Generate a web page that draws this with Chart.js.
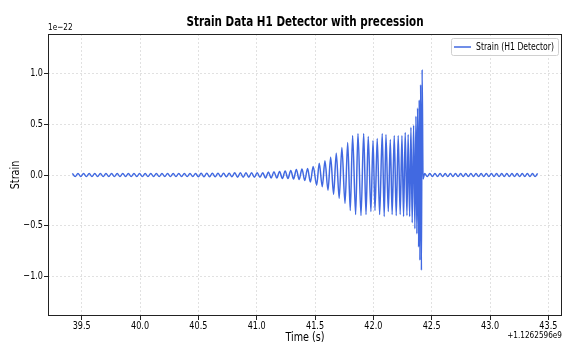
<!DOCTYPE html>
<html>
<head>
<meta charset="utf-8">
<script src="https://cdn.jsdelivr.net/npm/chart.js@4.4.0/dist/chart.umd.min.js"></script>
<style>
  html, body { margin: 0; padding: 0; background: #fff; }
  canvas { display: block; }
</style>
</head>
<body>
<canvas id="myChart" width="565" height="343"></canvas>
<script>
// time offsets in seconds (+1.1262596e9), strain in units of 1e-22
const earlyTimes = [
  39.420, 39.444, 39.468, 39.492, 39.516, 39.540, 39.564, 39.588, 39.612, 39.636,
  39.660, 39.684, 39.708, 39.732, 39.756, 39.780, 39.804, 39.828, 39.852, 39.876,
  39.900, 39.924, 39.948, 39.972, 39.996, 40.020, 40.044, 40.068, 40.092, 40.116,
  40.140, 40.164, 40.188, 40.212, 40.236, 40.260, 40.284, 40.308, 40.332, 40.356,
  40.380, 40.404, 40.428, 40.452, 40.476, 40.500, 40.524, 40.548, 40.572, 40.596,
  40.620, 40.644, 40.668, 40.692, 40.716, 40.740, 40.764, 40.788, 40.812, 40.836,
  40.860, 40.884, 40.908, 40.932, 40.956, 40.980, 41.004, 41.028, 41.052, 41.076,
  41.100, 41.124, 41.148, 41.172, 41.196, 41.220, 41.244, 41.268, 41.292, 41.316,
  41.340, 41.364, 41.388, 41.412, 41.436, 41.460, 41.484
];
const earlyStrain = [
  0.016, -0.016, 0.016, -0.016, 0.016, -0.016, 0.016, -0.016, 0.016, -0.016,
  0.016, -0.016, 0.016, -0.016, 0.016, -0.016, 0.016, -0.016, 0.016, -0.016,
  0.016, -0.016, 0.016, -0.016, 0.016, -0.016, 0.016, -0.016, 0.016, -0.016,
  0.016, -0.016, 0.016, -0.016, 0.016, -0.016, 0.016, -0.016, 0.016, -0.016,
  0.016, -0.016, 0.016, -0.016, 0.016, -0.018, 0.018, -0.018, 0.018, -0.018,
  0.018, -0.018, 0.018, -0.018, 0.018, -0.018, 0.018, -0.018, 0.022, -0.022,
  0.022, -0.022, 0.022, -0.022, 0.022, -0.022, 0.022, -0.022, 0.022, -0.03,
  0.03, -0.03, 0.032, -0.03, 0.035, -0.035, 0.04, -0.035, 0.045, -0.04,
  0.055, -0.045, 0.06, -0.055, 0.065, -0.07, 0.085
];
const chirpTimes = [
  41.514, 41.536, 41.562, 41.585, 41.611, 41.634, 41.659, 41.682, 41.707, 41.730,
  41.757, 41.780, 41.802, 41.822, 41.848, 41.868, 41.894, 41.917, 41.937, 41.956,
  41.979, 41.997, 42.014, 42.033, 42.054, 42.076, 42.093, 42.108, 42.128, 42.145,
  42.161, 42.179, 42.196, 42.213, 42.230, 42.245, 42.259, 42.273, 42.288, 42.298,
  42.311, 42.322, 42.333, 42.345, 42.356, 42.365, 42.373, 42.379, 42.388, 42.393,
  42.399, 42.405, 42.412, 42.418, 42.426
];
const chirpStrain = [
  -0.10, 0.116, -0.115, 0.14, -0.15, 0.175, -0.19, 0.215, -0.23, 0.27,
  -0.28, 0.32, -0.35, 0.39, -0.39, 0.41, -0.40, 0.41, -0.39, 0.38,
  -0.36, 0.34, -0.35, 0.36, -0.39, 0.41, -0.41, 0.40, -0.36, 0.35,
  -0.39, 0.39, -0.40, 0.39, -0.39, 0.39, -0.41, 0.42, -0.40, 0.40,
  -0.41, 0.47, -0.47, 0.49, -0.53, 0.58, -0.58, 0.66, -0.71, 0.74,
  -0.84, 0.89, -0.94, 1.04, -0.04
];
const lateTimes = [
  42.440, 42.462, 42.484, 42.506, 42.528, 42.550, 42.572, 42.594, 42.616, 42.638,
  42.660, 42.682, 42.704, 42.726, 42.748, 42.770, 42.792, 42.814, 42.836, 42.858,
  42.880, 42.902, 42.924, 42.946, 42.968, 42.990, 43.012, 43.034, 43.056, 43.078,
  43.100, 43.122, 43.144, 43.166, 43.188, 43.210, 43.232, 43.254, 43.276, 43.298,
  43.320, 43.342, 43.364, 43.386, 43.408
];
const lateStrain = [
  0.016, -0.016, 0.016, -0.016, 0.016, -0.016, 0.016, -0.016, 0.016, -0.016,
  0.016, -0.016, 0.016, -0.016, 0.016, -0.016, 0.016, -0.016, 0.016, -0.016,
  0.016, -0.016, 0.016, -0.016, 0.016, -0.016, 0.016, -0.016, 0.016, -0.016,
  0.016, -0.016, 0.016, -0.016, 0.016, -0.016, 0.016, -0.016, 0.016, -0.016,
  0.016, -0.016, 0.016, -0.016, 0.016
];

const xTicks = [39.5, 40.0, 40.5, 41.0, 41.5, 42.0, 42.5, 43.0, 43.5];
const yTicks = [-1.0, -0.5, 0.0, 0.5, 1.0];

const seriesLabel = 'Strain (H1 Detector)';
const titleText = 'Strain Data H1 Detector with precession';

const times = earlyTimes.concat(chirpTimes, lateTimes);
const strain = earlyStrain.concat(chirpStrain, lateStrain);
const points = times.map((t, i) => ({ x: t, y: strain[i] }));

const SX = 0.77;  // picture is squeezed horizontally
const LINE = '#4169e1';

function drawText(ctx, text, x, y, size, weight, align, rot) {
    ctx.save();
    ctx.translate(x, y);
    if (rot) ctx.rotate(rot);
    ctx.scale(SX, 1);
    ctx.font = weight + ' ' + size + 'px "DejaVu Sans"';
    ctx.fillStyle = '#000';
    ctx.textAlign = align;
    ctx.textBaseline = 'middle';
    ctx.fillText(text, 0, 0);
    ctx.restore();
}

function fmt(v) {
    const s = Math.abs(v).toFixed(1);
    return v < 0 ? '\u2212' + s : s;
}

const overlay = {
    id: 'overlay',
    afterDatasetsDraw(chart) {
        // legend box, top right
        const ctx = chart.ctx;
        const a = chart.chartArea;
        const bx = a.right - 111, by = a.top + 4, bw = 107, bh = 17;
        ctx.save();
        ctx.fillStyle = 'rgba(255,255,255,0.85)';
        ctx.strokeStyle = '#d0d0d0';
        ctx.lineWidth = 1;
        ctx.beginPath();
        ctx.roundRect(bx + 0.5, by + 0.5, bw, bh, 2);
        ctx.fill();
        ctx.stroke();
        ctx.strokeStyle = LINE;
        ctx.lineWidth = 1.5;
        ctx.beginPath();
        ctx.moveTo(bx + 3, by + 9);
        ctx.lineTo(bx + 20, by + 9);
        ctx.stroke();
        ctx.restore();
        drawText(ctx, seriesLabel, bx + 25, by + 9, 10, 'normal', 'left');
    },
    afterDraw(chart) {
        const ctx = chart.ctx;
        const a = chart.chartArea;
        const xs = chart.scales.x, ys = chart.scales.y;
        ctx.save();
        ctx.strokeStyle = '#222';
        ctx.lineWidth = 1;
        ctx.strokeRect(a.left + 0.5, a.top + 0.5, a.right - a.left - 1, a.bottom - a.top - 1);
        ctx.restore();

        xTicks.forEach(v => drawText(ctx, v.toFixed(1), xs.getPixelForValue(v), a.bottom + 10.5, 10.5, 'normal', 'center'));
        yTicks.forEach(v => drawText(ctx, fmt(v), a.left - 5, ys.getPixelForValue(v), 10.5, 'normal', 'right'));

        const cx = (a.left + a.right) / 2;
        drawText(ctx, titleText, cx, 22, 13.5, 'bold', 'center');
        drawText(ctx, 'Time (s)', cx, 338, 12.5, 'normal', 'center');
        drawText(ctx, 'Strain', 16, (a.top + a.bottom) / 2, 12.5, 'normal', 'center', -Math.PI / 2);
        drawText(ctx, '1e\u221222', a.left, 28, 9.5, 'normal', 'left');
        drawText(ctx, '+1.1262596e9', a.right, 336, 9.5, 'normal', 'right');
    }
};

const gridOpts = {
    color: 'rgba(0,0,0,0.15)',
    lineWidth: 0.8,
    drawTicks: true,
    tickLength: 4,
    tickColor: '#222',
    tickWidth: 1
};

const ctx = document.getElementById('myChart').getContext('2d');
const myChart = new Chart(ctx, {
    type: 'line',
    data: {
        datasets: [{
            label: seriesLabel,
            data: points,
            borderColor: LINE,
            backgroundColor: LINE,
            borderWidth: 1.5,
            pointRadius: 0,
            cubicInterpolationMode: 'monotone',
            fill: false
        }]
    },
    options: {
        responsive: false,
        animation: false,
        layout: { padding: { top: 34, right: 3, left: 0, bottom: 0 } },
        plugins: {
            legend: { display: false },
            title: { display: false },
            tooltip: { enabled: false }
        },
        scales: {
            x: {
                type: 'linear',
                min: 39.211,
                max: 43.617,
                grid: gridOpts,
                border: { display: false, dash: [2, 2] },
                ticks: { display: false },
                afterBuildTicks: s => { s.ticks = xTicks.map(v => ({ value: v })); },
                afterFit: s => { s.height = 27; }
            },
            y: {
                type: 'linear',
                min: -1.39,
                max: 1.39,
                grid: gridOpts,
                border: { display: false, dash: [2, 2] },
                ticks: { display: false },
                afterBuildTicks: s => { s.ticks = yTicks.map(v => ({ value: v })); },
                afterFit: s => { s.width = 48; }
            }
        }
    },
    plugins: [overlay]
});
</script>
</body>
</html>
